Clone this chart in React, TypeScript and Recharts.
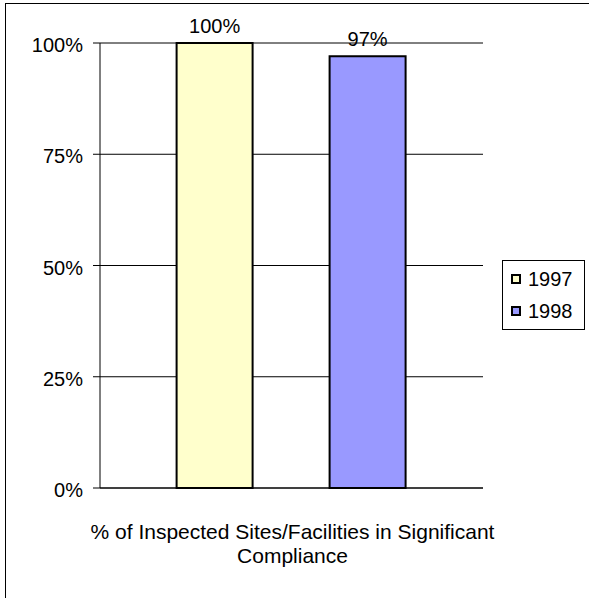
import React from 'react';
import { BarChart, Bar, XAxis, YAxis, CartesianGrid, LabelList } from 'recharts';

const categories = ['% of Inspected Sites/Facilities in Significant Compliance'];
const titleLines = ['% of Inspected Sites/Facilities in Significant', 'Compliance'];
const seriesNames = ['1997', '1998'];
const values1997 = [100];
const values1998 = [97];
const yTicks = [0, 25, 50, 75, 100];
const colors = ['#FFFFCC', '#9999FF'];

const data = categories.map((c, i) => ({
  category: c,
  [seriesNames[0]]: values1997[i],
  [seriesNames[1]]: values1998[i],
}));

const FONT = '"Liberation Sans", Arial, sans-serif';

const YTick = (props: any) => {
  const { x, y, payload } = props;
  return (
    <text x={x} y={y + 9} textAnchor="end" fontSize={20} fontFamily={FONT} fill="#000">
      {`${payload.value}%`}
    </text>
  );
};

const TitleLabel = (props: any) => {
  const { viewBox } = props;
  const cx = viewBox.x + viewBox.width / 2 + 1;
  const y0 = viewBox.y + 50.5;
  return (
    <text x={cx} y={y0} textAnchor="middle" fontSize={21} fontFamily={FONT} fill="#000">
      {titleLines.map((l, i) => (
        <tspan key={i} x={cx} dy={i === 0 ? 0 : 24}>
          {l}
        </tspan>
      ))}
    </text>
  );
};

const LegendBox = () => (
  <div
    style={{
      position: 'absolute',
      left: 502,
      top: 260,
      width: 83,
      height: 70,
      border: '1px solid #000',
      boxSizing: 'border-box',
      background: '#fff',
      fontFamily: FONT,
      fontSize: 20,
      color: '#000',
    }}
  >
    {seriesNames.map((n, i) => (
      <div key={n} style={{ position: 'absolute', left: 8, top: 7 + i * 32, height: 22, display: 'flex', alignItems: 'center' }}>
        <div style={{ width: 10, height: 10, boxSizing: 'border-box', border: '2px solid #000', background: colors[i] }} />
        <span style={{ marginLeft: 7, lineHeight: '22px' }}>{n}</span>
      </div>
    ))}
  </div>
);

export default function App() {
  return (
    <div style={{ position: 'absolute', left: 0, top: 0, width: 589, height: 598, overflow: 'hidden', background: '#fff' }}>
      <div
        style={{
          position: 'absolute',
          left: 5,
          top: 3,
          width: 620,
          height: 620,
          border: '1.5px solid #000',
          boxSizing: 'border-box',
        }}
      />
      <div style={{ position: 'absolute', left: 0, top: 0 }}>
        <BarChart
          width={589}
          height={598}
          data={data}
          margin={{ top: 43, right: 106, bottom: 0, left: 0 }}
          barCategoryGap="20%"
          barGap={77}
        >
          <CartesianGrid vertical={false} stroke="#000" strokeWidth={1} />
          <XAxis
            dataKey="category"
            height={110}
            tick={false}
            tickLine={false}
            axisLine={{ stroke: '#000', strokeWidth: 1 }}
            label={{ content: TitleLabel }}
          />
          <YAxis
            width={100}
            domain={[0, 100]}
            ticks={yTicks}
            tick={YTick}
            tickSize={7}
            tickMargin={10}
            tickLine={{ stroke: '#000' }}
            axisLine={{ stroke: '#000' }}
            interval={0}
          />
          <YAxis
            yAxisId="right"
            orientation="right"
            width={0}
            domain={[0, 100]}
            tick={false}
            tickLine={false}
            axisLine={{ stroke: '#808080' }}
          />
          {seriesNames.map((n, i) => (
            <Bar key={n} dataKey={n} fill={colors[i]} stroke="#000" strokeWidth={2} isAnimationActive={false}>
              <LabelList
                dataKey={n}
                position="top"
                offset={10}
                formatter={(v: any) => `${v}%`}
                style={{ fontSize: 20, fontFamily: FONT, fill: '#000' }}
              />
            </Bar>
          ))}
        </BarChart>
      </div>
      <LegendBox />
    </div>
  );
}
